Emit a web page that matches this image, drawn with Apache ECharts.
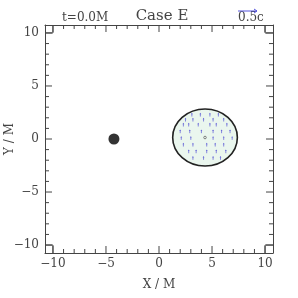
<!DOCTYPE html>
<html><head><meta charset="utf-8">
<script src="https://cdn.jsdelivr.net/npm/echarts@6/dist/echarts.min.js"></script>
<style>html,body{margin:0;padding:0;background:#fff}#c{width:298px;height:298px}</style>
</head><body><div id="c"></div>
<script>
var tickLabels = [-10, -5, 0, 5, 10];
var minorTicks = [-10,-9,-8,-7,-6,-5,-4,-3,-2,-1,0,1,2,3,4,5,6,7,8,9,10];
var blackHole = [[-4.25, 0]];
var star = {cx: 4.34, cy: 0.14, rx: 3.05, ry: 2.69};
var arrows = [
 [3.1,2.26],[3.9,2.26],[4.8,2.26],[5.6,2.26],
 [2.5,1.79],[3.2,1.79],[4.2,1.79],[5.1,1.79],[6.1,1.79],
 [2.3,1.32],[2.8,1.32],[3.7,1.32],[4.8,1.32],[5.4,1.32],[6.4,1.32],
 [2.0,0.69],[2.9,0.69],[4.0,0.69],[5.1,0.69],[5.9,0.69],[6.7,0.69],
 [2.1,0.06],[3.0,0.06],[5.1,0.06],[6.1,0.06],[6.9,0.06],
 [2.3,-0.57],[3.2,-0.57],[4.5,-0.57],[5.3,-0.57],[6.1,-0.57],
 [2.8,-1.2],[3.5,-1.2],[4.5,-1.2],[5.4,-1.2],[6.3,-1.2],
 [3.2,-1.82],[4.2,-1.82],[5.1,-1.82],[5.8,-1.82]
];
var R = 10.75;
var font = '"DejaVu Serif", "Liberation Serif", serif';
var chart = echarts.init(document.getElementById('c'));
function axisCommon() {
  return {type:'value', min:-R, max:R,
    axisLine:{show:true, onZero:false, lineStyle:{color:'#444', width:1}},
    axisTick:{show:false}, splitLine:{show:false}};
}
function fmt(v){return v<0?'\u2212'+(-v):String(v);}
var xb = axisCommon(); xb.position='bottom';
xb.axisLabel={customValues:tickLabels, fontFamily:font, fontSize:12, color:'#444', margin:5, formatter:fmt};
xb.name='X / M'; xb.nameLocation='middle'; xb.nameGap=26; xb.nameMoveOverlap=false;
xb.nameTextStyle={fontFamily:font,fontSize:12,color:'#444'};
var xt = axisCommon(); xt.position='top'; xt.axisLabel={show:false};
var yl = axisCommon(); yl.position='left';
yl.axisLabel={customValues:tickLabels, fontFamily:font, fontSize:12, color:'#444', margin:6, formatter:fmt};
yl.name='Y / M'; yl.nameLocation='middle'; yl.nameGap=29; yl.nameMoveOverlap=false;
yl.nameTextStyle={fontFamily:font,fontSize:12,color:'#444'};
var yr = axisCommon(); yr.position='right'; yr.axisLabel={show:false};

chart.setOption({
  animation:false,
  grid:{left:45, top:25, width:228, height:228, show:false, outerBoundsMode:'none', containLabel:false},
  title:{text:'Case E', left:157, top:4, textAlign:'center',
    textStyle:{fontFamily:font, fontSize:15, fontWeight:'normal', color:'#444'}},
  graphic:[
    {type:'text', left:62, top:12, style:{text:'t=0.0M', font:'12px '+font, fill:'#444'}},
    {type:'text', left:238, top:12, style:{text:'0.5c', font:'12px '+font, fill:'#444'}},
    {type:'line', shape:{x1:238,y1:11,x2:257,y2:11}, style:{stroke:'#5555dd', lineWidth:1}},
    {type:'polyline', shape:{points:[[254,9],[257,11],[254,13]]}, style:{stroke:'#5555dd', lineWidth:1, fill:null}}
  ],
  xAxis:[xb, xt],
  yAxis:[yl, yr],
  series:[
    {type:'custom', xAxisIndex:0, yAxisIndex:0, data:minorTicks, silent:true,
      renderItem:function(params, api){
        var v = api.value(0);
        var major = (v % 5 === 0);
        var L = major ? 7 : 4;
        var b = api.coord([v, -R]), t = api.coord([v, R]);
        var l = api.coord([-R, v]), r = api.coord([R, v]);
        var st = {stroke:'#444', lineWidth:1};
        var ch = [
          {type:'line', shape:{x1:b[0],y1:b[1],x2:b[0],y2:b[1]-L}, style:st},
          {type:'line', shape:{x1:t[0],y1:t[1],x2:t[0],y2:t[1]+L}, style:st},
          {type:'line', shape:{x1:l[0],y1:l[1],x2:l[0]+L,y2:l[1]}, style:st},
          {type:'line', shape:{x1:r[0],y1:r[1],x2:r[0]-L,y2:r[1]}, style:st}
        ];
        if (Math.abs(v) === 10) {
          var s = v > 0 ? 1 : -1;
          var c1 = api.coord([s*10, 10]), e1 = api.coord([s*10, R]), f1 = api.coord([s*R, 10]);
          var c2 = api.coord([s*10, -10]), e2 = api.coord([s*10, -R]), f2 = api.coord([s*R, -10]);
          ch.push({type:'polyline', shape:{points:[e1,c1,f1]}, style:{stroke:'#444',lineWidth:1,fill:null}});
          ch.push({type:'polyline', shape:{points:[e2,c2,f2]}, style:{stroke:'#444',lineWidth:1,fill:null}});
        }
        return {type:'group', children:ch};
      }},
    {type:'custom', data:[[star.cx, star.cy, star.rx, star.ry]], silent:true, z:3,
      renderItem:function(params, api){
        var c = api.coord([api.value(0), api.value(1)]);
        var p = api.coord([api.value(0)+api.value(2), api.value(1)+api.value(3)]);
        var rx = Math.abs(p[0]-c[0]), ry = Math.abs(p[1]-c[1]);
        return {type:'group', children:[
          {type:'ellipse', shape:{cx:c[0], cy:c[1], rx:rx, ry:ry},
            style:{fill:'#eaf6ee', stroke:'#222', lineWidth:1.6}},
          {type:'circle', shape:{cx:c[0], cy:c[1], r:1.3}, style:{fill:'none', stroke:'#666', lineWidth:0.8}}
        ]};
      }},
    {type:'custom', data:arrows, silent:true, z:4,
      renderItem:function(params, api){
        var c = api.coord([api.value(0), api.value(1)]);
        var col = '#6a6ad8';
        return {type:'group', children:[
          {type:'line', shape:{x1:c[0],y1:c[1]+1.5,x2:c[0],y2:c[1]-1.5}, style:{stroke:col, lineWidth:0.8}},
          {type:'polygon', shape:{points:[[c[0]-0.9,c[1]-0.8],[c[0]+0.9,c[1]-0.8],[c[0],c[1]-2.2]]}, style:{fill:col}}
        ]};
      }},
    {type:'scatter', data:blackHole, symbol:'circle', symbolSize:11, itemStyle:{color:'#000'}, silent:true, z:5}
  ]
});
</script></body></html>
